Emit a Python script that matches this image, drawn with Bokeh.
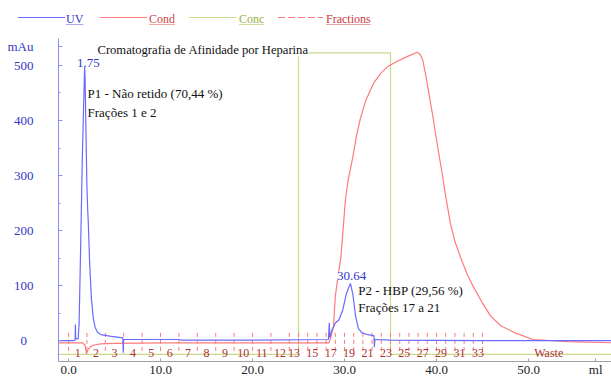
from bokeh.plotting import figure
from bokeh.layouts import column
from bokeh.models import Range1d, FixedTicker, Label, Div
from bokeh.embed import file_html
from bokeh.resources import INLINE
from bokeh.core.properties import value

# ---------------- data ----------------
uv_ml = [-1.09, 0.6, 0.72, 0.75, 0.78, 0.95, 1.05, 1.15, 1.25, 1.5, 1.75, 1.8, 1.9, 2.0, 2.08,
         2.15, 2.3, 2.5, 2.7, 2.9, 3.15, 3.5, 4.5, 5.9, 5.95, 5.98, 8.0, 12.0, 12.3, 20.0,
         28.25, 28.35, 28.4, 28.6, 29.0, 29.4, 29.8, 30.2, 30.64, 30.9, 31.2, 31.5, 31.9,
         32.5, 33.2, 33.25, 33.3, 35.0, 45.0, 59.1]
uv_mau = [0, 0, 1, 29, 3, 3, 3, 30, 110, 330, 497, 480, 380, 280, 240,
          215, 140, 74, 40, 24, 15, 11, 8, 5, -22, 2, 2, 2, 1, 1,
          2, 32, 5, 18, 32, 38, 55, 85, 104, 85, 45, 22, 14,
          11, 9, -12, 2, 1, 0, 0]

cond_ml = [-1.09, 1.5, 1.8, 1.95, 2.1, 2.4, 2.8, 3.5, 5.0, 10.0, 28.3, 28.5, 28.8, 29.0,
           29.3, 29.6, 30.1, 30.4, 30.9, 31.3, 31.7, 32.3, 33.2, 34.0, 34.7, 35.8, 36.8,
           37.9, 38.2, 38.5, 38.8, 39.1, 39.6, 40.0, 40.6, 41.0, 41.5, 42.0, 42.6, 43.3,
           44.0, 45.0, 45.9, 47.0, 48.4, 50.5, 54.2, 59.1]
cond_mau = [-4, -4, -8, -24, -17, -11, -8, -6, -5, -4, -4, 5, 25, 80,
            118, 150, 256, 292, 333, 372, 402, 436, 469, 487, 498, 508, 516,
            524, 521, 510, 485, 456, 408, 365, 305, 262, 214, 180, 152, 122,
            98, 68, 44, 27, 15, 2, -2, -4]

conc_ml = [-1.09, 25.0, 25.0, 35.0, 35.0, 59.1]
conc_mau = [-25, -25, 523, 523, -25, -25]

fraction_edges = [0, 2, 4, 6, 8, 10, 12, 14, 16, 18, 20, 22, 24,
                  25, 26, 27, 28, 29, 30, 31, 32, 33, 34, 35, 36, 37, 38, 39, 40,
                  41, 42, 43, 44, 45]
fraction_labels = ["1", "2", "3", "4", "5", "6", "7", "8", "9", "10", "11", "12",
                   "13", "15", "17", "19", "21", "23", "25", "27", "29", "31", "33", "Waste"]
fraction_label_ml = [1, 3, 5, 7, 9, 11, 13, 15, 17, 19, 21, 23,
                     24.5, 26.5, 28.5, 30.5, 32.5, 34.5, 36.5, 38.5, 40.5, 42.5, 44.5, 52.2]

x_ticks = [0, 10, 20, 30, 40, 50, 57.3]
x_tick_labels = ["0.0", "10.0", "20.0", "30.0", "40.0", "50.0", "ml"]
y_ticks = [0, 100, 200, 300, 400, 500, 534]
y_tick_labels = ["\u20070\u2007", "100", "200", "300", "400", "500", "mAu"]
y_minor = [50, 150, 250, 350, 450]

legend_names = ["UV", "Cond", "Conc", "Fractions"]

# ---------------- styles ----------------
SERIF = "Liberation Serif"
UV_C = "#6a6aff"
COND_C = "#ff7a7a"
CONC_C = "#c8dc8c"
FRAC_C = "#ff7a7a"

# ---------------- main chart ----------------
p = figure(width=611, height=349, output_backend="svg", toolbar_location=None,
           x_range=Range1d(-1.087, 59.02), y_range=Range1d(-38, 549),
           min_border_left=58, min_border_top=8, min_border_right=0, min_border_bottom=0)
p.outline_line_color = None
p.xgrid.visible = False
p.ygrid.visible = False
p.background_fill_color = "white"
p.border_fill_color = "white"

xa = p.xaxis[0]
xa.ticker = FixedTicker(ticks=x_ticks)
xa.major_label_overrides = {t: l for t, l in zip(x_ticks, x_tick_labels)}
xa.axis_line_color = "#a0a0a0"
xa.major_tick_line_color = "#a0a0a0"
xa.major_tick_in = 3
xa.major_tick_out = 0
xa.minor_tick_line_color = None
xa.major_label_standoff = 0
xa.axis_label_standoff = 0
xa.major_label_text_font = SERIF
xa.major_label_text_font_size = "13px"
xa.major_label_text_color = "#222222"

ya = p.yaxis[0]
ya.ticker = FixedTicker(ticks=y_ticks, minor_ticks=y_minor)
ya.major_label_overrides = {t: l for t, l in zip(y_ticks, y_tick_labels)}
ya.axis_line_color = "#8a8aff"
ya.major_tick_line_color = "#8a8aff"
ya.minor_tick_line_color = "#8a8aff"
ya.major_tick_in = 4
ya.major_tick_out = 0
ya.minor_tick_in = 2
ya.minor_tick_out = 0
ya.major_label_standoff = 25
ya.major_label_text_font = SERIF
ya.major_label_text_font_size = "13px"
ya.major_label_text_color = "#3535c8"

p.line(conc_ml, conc_mau, line_color=CONC_C, line_width=1.2)
p.segment(x0=fraction_edges, y0=[14] * len(fraction_edges),
          x1=fraction_edges, y1=[-25] * len(fraction_edges),
          line_color=FRAC_C, line_width=1, line_dash="4 3")
p.line(cond_ml, cond_mau, line_color=COND_C, line_width=1.2)
p.line(uv_ml, uv_mau, line_color=UV_C, line_width=1.2)

p.text(x=fraction_label_ml, y=[-22] * len(fraction_label_ml), text=fraction_labels,
       text_font=value(SERIF), text_font_size="12px", text_color="#b03030",
       text_align="center", text_baseline="middle")

p.text(x=[2.07, 2.07, 31.5, 31.5], y=[449, 415, 91, 60],
       text=["P1 - Não retido (70,44 %)", "Frações 1 e 2",
             "P2 - HBP (29,56 %)", "Frações 17 a 21"],
       text_font=value(SERIF), text_font_size="13px", text_color="#111111",
       text_align="left", text_baseline="middle")

p.add_layout(Label(x=3.15, y=529, text="Cromatografia de Afinidade por Heparina",
                   text_font=SERIF, text_font_size="12.6px", text_color="#111111",
                   text_baseline="middle", background_fill_color="white"))
p.add_layout(Label(x=2.17, y=505, text="1.75", text_font=SERIF, text_font_size="13px",
                   text_color="#3535c8", text_align="center", text_baseline="middle",
                   background_fill_color="white"))
p.add_layout(Label(x=30.76, y=118, text="30.64", text_font=SERIF, text_font_size="13px",
                   text_color="#3535c8", text_align="center", text_baseline="middle",
                   background_fill_color="white"))

# ---------------- legend strip above the chart (HTML, page pixels) ----------------
sample_x0 = [18, 100, 189, 278]
sample_w = [47, 47, 47, 45]
text_x = [66, 149, 239, 326]
line_cols = [UV_C, COND_C, CONC_C, FRAC_C]
text_cols = ["#3535c8", "#d04444", "#9ab040", "#c43a3a"]
under_cols = ["#a8a8ee", "#f2a8a8", "#cfdc9c", "#eaa2a2"]

parts = ['<div style="position:relative;width:611px;height:30px;margin:0;padding:0;'
         'font-family:\'Liberation Serif\';font-size:12px;line-height:12px;">']
for i in range(4):
    if i == 3:
        bg = f"repeating-linear-gradient(to right,{line_cols[i]} 0 7px,transparent 7px 10px)"
    else:
        bg = line_cols[i]
    parts.append(f'<span style="position:absolute;left:{sample_x0[i]}px;top:16.5px;'
                 f'width:{sample_w[i]}px;height:1.2px;background:{bg};"></span>')
    parts.append(f'<span style="position:absolute;left:{text_x[i]}px;top:13px;white-space:nowrap;'
                 f'color:{text_cols[i]};text-decoration:underline;'
                 f'text-decoration-color:{under_cols[i]};">{legend_names[i]}</span>')
parts.append("</div>")
top = Div(text="".join(parts), width=611, height=30, margin=0)

layout = column(top, p, spacing=0)
open("out.html", "w").write(file_html(layout, INLINE))
